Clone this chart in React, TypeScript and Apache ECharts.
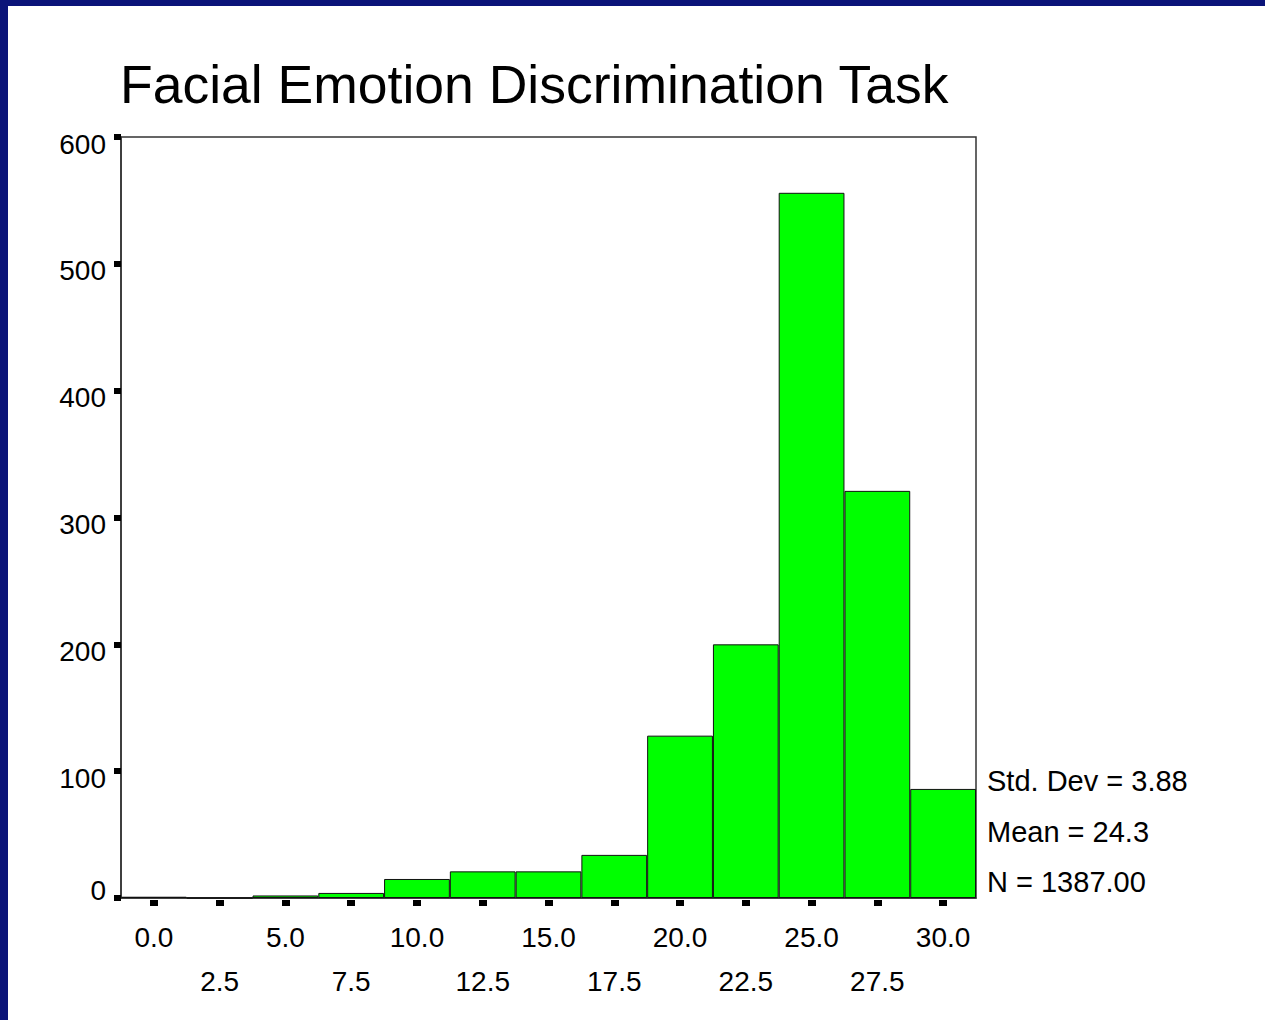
import React, { useEffect, useRef } from "react";
import * as echarts from "echarts";

const binLabels = ["0.0", "2.5", "5.0", "7.5", "10.0", "12.5", "15.0", "17.5", "20.0", "22.5", "25.0", "27.5", "30.0"];
const counts = [1, 0, 2, 4, 15, 21, 21, 34, 128, 200, 556, 321, 86];
const yTicks = [0, 100, 200, 300, 400, 500, 600];
const titleText = "Facial Emotion Discrimination Task";
const statLines = ["Std. Dev = 3.88", "Mean = 24.3", "N = 1387.00"];

const FONT = "'Liberation Sans', Arial, Helvetica, sans-serif";

export default function App() {
  const ref = useRef<HTMLDivElement>(null);
  useEffect(() => {
    if (!ref.current) return;
    const chart = echarts.init(ref.current, undefined, { renderer: "svg" });
    const option: any = {
      animation: false,
      backgroundColor: "#ffffff",
      grid: {
        left: 121,
        right: 289,
        top: 137,
        bottom: 122,
        show: true,
        borderColor: "#333333",
        borderWidth: 1.5,
        backgroundColor: "transparent",
      },
      xAxis: [
        {
          type: "category",
          data: binLabels,
          boundaryGap: true,
          axisLine: { show: true, lineStyle: { color: "#333333", width: 1.5 } },
          axisTick: { show: false },
          axisLabel: {
            interval: 0,
            margin: 17,
            fontSize: 28,
            lineHeight: 44,
            color: "#000000",
            fontFamily: FONT,
            formatter: (v: string, i: number) => (i % 2 === 1 ? "\n" + v : v),
          },
          splitLine: { show: false },
        },
        {
          type: "category",
          data: binLabels,
          position: "bottom",
          offset: 2,
          boundaryGap: true,
          axisLine: { show: false },
          axisTick: { show: true, alignWithLabel: true, interval: 0, length: 6, lineStyle: { color: "#000000", width: 8 } },
          axisLabel: { show: false },
          splitLine: { show: false },
        },
      ],
      yAxis: {
        type: "value",
        min: 0,
        max: 600,
        interval: 100,
        axisLine: { show: true, lineStyle: { color: "#333333", width: 1.5 } },
        axisTick: { show: true, inside: false, length: 7, lineStyle: { color: "#000000", width: 6 } },
        splitLine: { show: false },
        axisLabel: {
          margin: 15,
          fontSize: 28,
          color: "#000000",
          fontFamily: FONT,
          formatter: (v: number) => (yTicks.includes(v) ? (v === 0 ? "{z|0}" : "{n|" + v + "}") : ""),
          rich: {
            n: { fontSize: 28, fontFamily: FONT, color: "#000000", padding: [14, 0, 0, 0] },
            z: { fontSize: 28, fontFamily: FONT, color: "#000000", padding: [0, 0, 16, 0] },
          },
        },
      },
      series: [
        {
          type: "bar",
          xAxisIndex: 0,
          data: counts,
          barCategoryGap: "0%",
          barGap: "0%",
          itemStyle: { color: "#00ff00", borderColor: "#111111", borderWidth: 1 },
        },
      ],
      graphic: [
        { type: "rect", left: 0, top: 0, shape: { x: 0, y: 0, width: 1265, height: 6 }, style: { fill: "#0b1479" } },
        { type: "rect", left: 0, top: 0, shape: { x: 0, y: 0, width: 8, height: 1020 }, style: { fill: "#0b1479" } },
        {
          type: "text",
          x: 120,
          y: 84,
          style: { text: titleText, fontSize: 53.5, fontFamily: FONT, fill: "#000000", verticalAlign: "middle", align: "left" },
        },
        ...statLines.map((t, i) => ({
          type: "text",
          x: 987,
          y: 781 + i * 50.5,
          style: { text: t, fontSize: 29, fontFamily: FONT, fill: "#000000", verticalAlign: "middle", align: "left" },
        })),
      ],
    };
    chart.setOption(option);
    return () => chart.dispose();
  }, []);
  return (
    <div
      ref={ref}
      style={{ position: "fixed", left: 0, top: 0, width: 1265, height: 1020, background: "#ffffff" }}
    />
  );
}
